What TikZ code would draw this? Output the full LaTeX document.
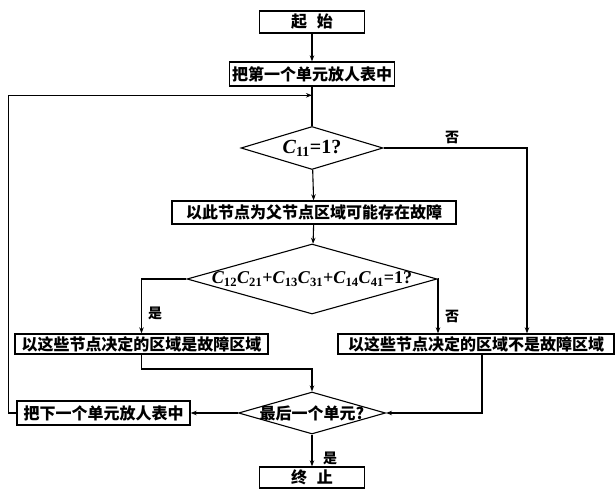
\documentclass[tikz,border=0pt]{standalone}
\usepackage{fontspec}
\setmainfont{Liberation Serif}
\newfontfamily\cjk{Noto Sans CJK SC}
\usetikzlibrary{shapes.geometric,arrows.meta,calc}
\newcommand\Cx[1]{\textbf{\textit{C}}\textsubscript{\textbf{#1}}}
\tikzset{
  box/.style={draw, line width=1.3pt, font=\cjk\bfseries\fontsize{16}{16}\selectfont, inner sep=0pt},
  dec/.style={draw, diamond, line width=1.1pt, inner sep=0pt},
  ln/.style={line width=1.1pt},
  arr/.style={line width=1.1pt, -{Stealth[length=6pt,width=4.5pt]}},
  lab/.style={font=\cjk\bfseries\fontsize{14}{14}\selectfont, inner sep=0pt}
}
\begin{document}
\begin{tikzpicture}[x=1pt,y=-1pt]
\useasboundingbox (0,0) rectangle (616,494);
\node[box, minimum width=105pt, minimum height=22pt] (start) at (312,22) {起\hspace{0.6em}始};
\node[box, minimum width=165pt, minimum height=24pt] (b1) at (312,74) {把第一个单元放人表中};
\node[dec, minimum width=142pt, minimum height=43pt] (d1) at (312,148)
  {\makebox[0pt]{\fontsize{20}{20}\selectfont\Cx{11}\textbf{=1?}}};
\node[box, minimum width=284pt, minimum height=23pt] (b2) at (314,212.5) {以此节点为父节点区域可能存在故障};
\node[dec, minimum width=250pt, minimum height=70pt] (d2) at (312,279)
  {\makebox[0pt]{\fontsize{18}{18}\selectfont\Cx{12}\Cx{21}\textbf{+}\Cx{13}\Cx{31}\textbf{+}\Cx{14}\Cx{41}\textbf{=1?}}};
\node[box, minimum width=253pt, minimum height=20pt] (lb) at (141.5,344) {以这些节点决定的区域是故障区域};
\node[box, minimum width=276pt, minimum height=20pt] (rb) at (476,344) {以这些节点决定的区域不是故障区域};
\node[box, minimum width=173pt, minimum height=24pt] (nb) at (103.5,413) {把下一个单元放人表中};
\node[dec, minimum width=147pt, minimum height=42pt] (d3) at (312,413)
  {\makebox[0pt]{\cjk\bfseries\fontsize{16}{16}\selectfont 最后一个单元?}};
\node[box, minimum width=105pt, minimum height=21pt] (end) at (312,477.5) {终\hspace{0.6em}止};

\coordinate (j) at ($(b1.south)!0.22!(d1.north)$);
\coordinate (m1) at (141.5,369);

\draw[arr] (start) -- (b1);
\draw[ln] (b1) -- (d1);
\draw[arr] (d1) -- (b2);
\draw[arr] (d1.east) -| ([xshift=51pt]rb.north);
\node[lab] (no1) at (452,137) {否};
\draw[arr] (b2) -- (d2);
\draw[arr] (d2.west) -| (lb.north);
\node[lab] (yes1) at (155,313) {是};
\draw[arr] (d2.east) -| ([xshift=-38pt]rb.north);
\node[lab] (no2) at (452,316) {否};
\draw[arr] (lb.south) -- (m1) -| (d3.north);
\draw[arr] ([xshift=6pt]rb.south) |- (d3.east);
\draw[arr] (d3.west) -- (nb.east);
\draw[arr] (nb.west) -- ++(-8,0) |- (j);
\draw[arr] (d3.south) -- (end);
\node[lab] (yes2) at (330,458) {是};
\end{tikzpicture}
\end{document}
